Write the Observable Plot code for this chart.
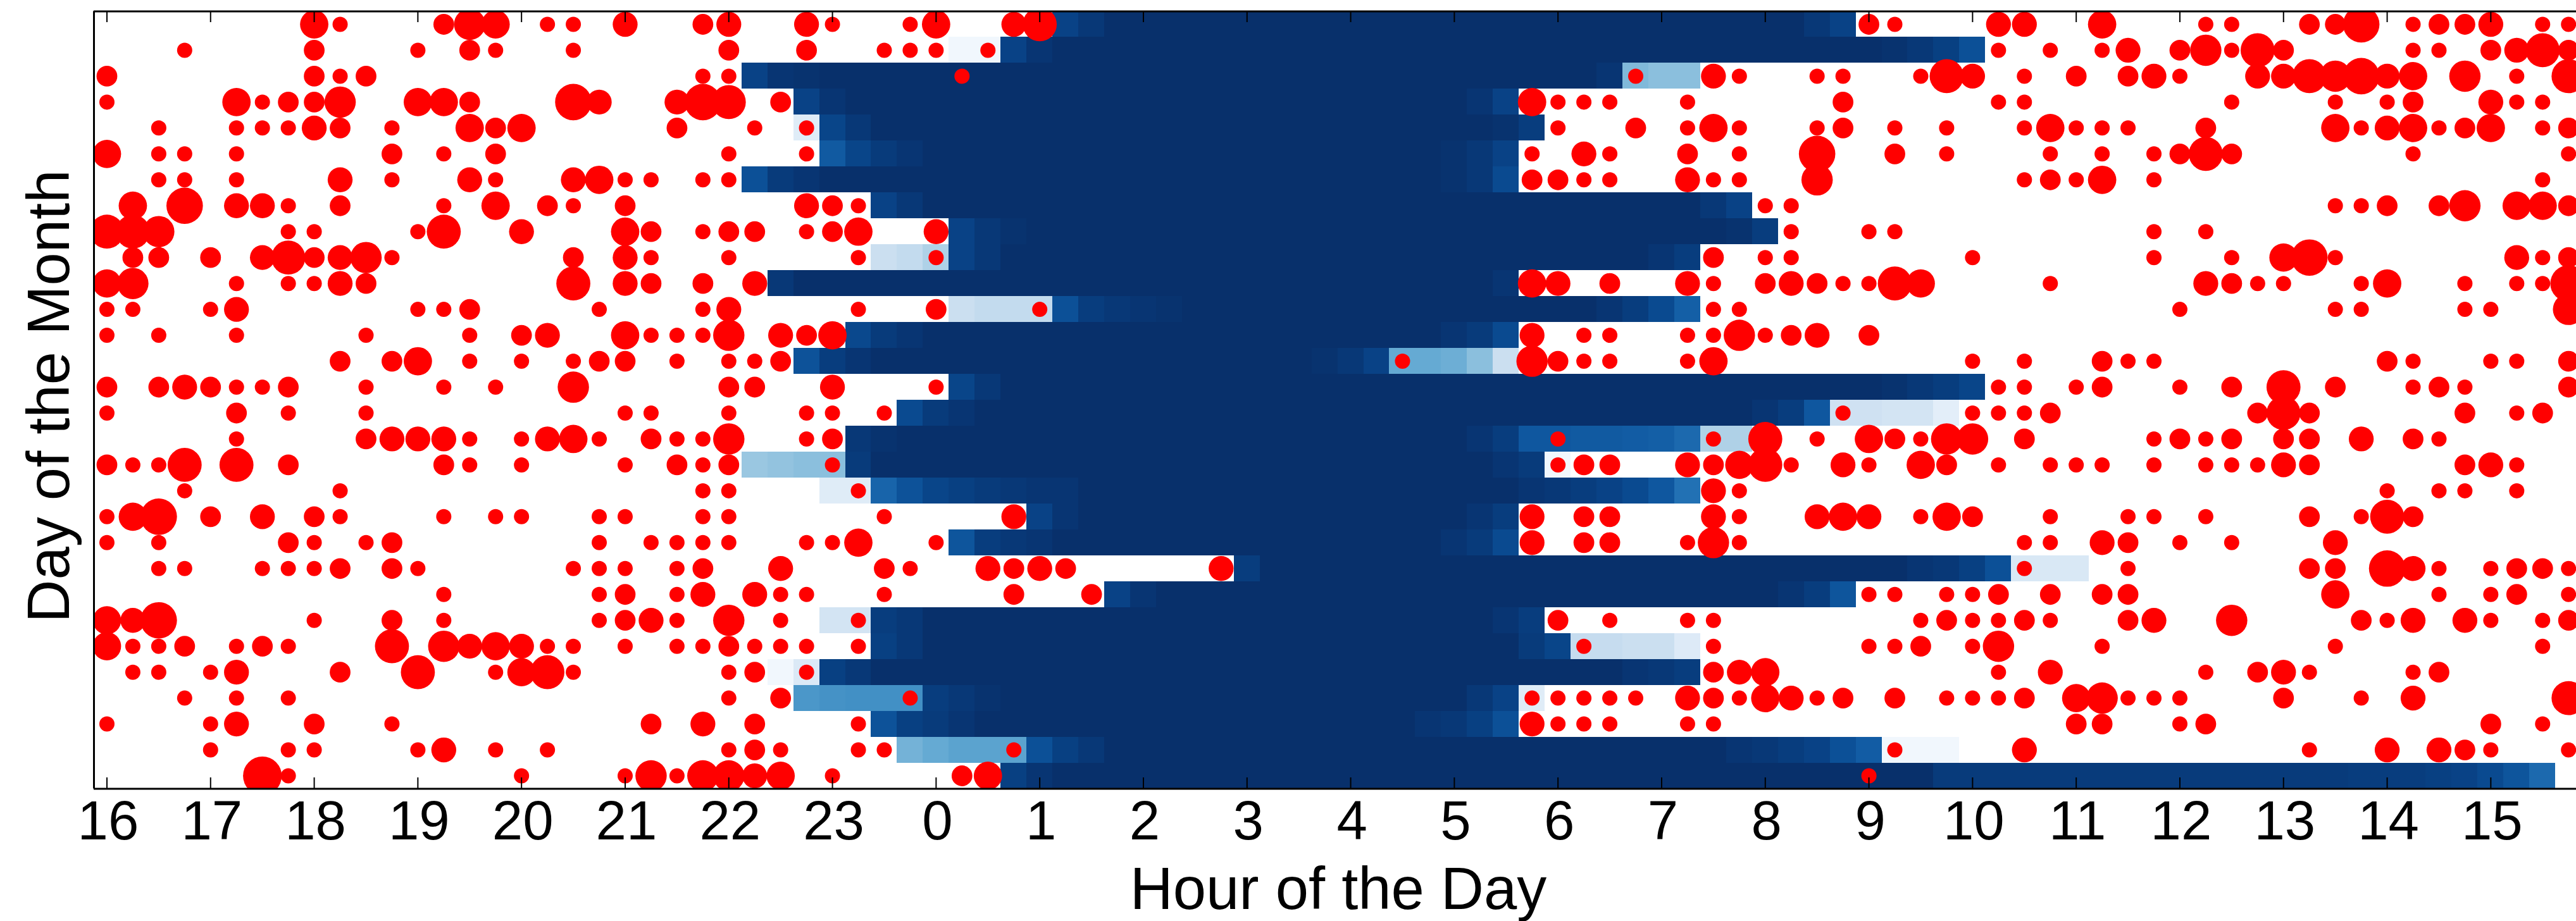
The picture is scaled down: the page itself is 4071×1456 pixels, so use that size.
<!DOCTYPE html>
<html>
<head>
<meta charset="utf-8">
<script src="https://cdn.jsdelivr.net/npm/d3@7"></script>
<script src="https://cdn.jsdelivr.net/npm/@observablehq/plot@0.6"></script>
<style>
html,body{margin:0;padding:0;background:#fff;overflow:hidden}
svg{display:block;max-width:none}
</style>
</head>
<body>
<div id="chart"></div>
<script>
const hourLabels = [16,17,18,19,20,21,22,23,0,1,2,3,4,5,6,7,8,9,10,11,12,13,14,15];
const tickColumns = [0,4,8,12,16,20,24,28,32,36,40,44,48,52,56,60,64,68,72,76,80,84,88,92];

// Sleep band per day: first and last coloured quarter-hour column
const bandStart = [37,33,25,27,27,28,25,30,33,30,26,33,29,27,33,31,29,25,28,36,33,44,39,28,30,26,27,30,31,35];
const bandEnd = [67,72,61,54,55,54,54,63,64,61,54,61,54,54,72,71,63,56,61,54,54,76,67,55,61,61,55,54,71,94];
// Estimated shade of the first columns of each band
const leadIn = [
 [.93,.97],[.03,.03,.93,.98],[.93,.98,.99],[.93,.98],[.12,.92,.97],[.84,.92,.96,.98],
 [.88,.96,.98],[.93,.97],[.93,.97,.99],[.22,.25,.32,.93,.97],[.97],[.22,.25,.25,.25,.88,.95,.97,.98,.99],
 [.91,.96,.98],[.87,.95,.98],[.92,.97],[.9,.96,.98],[.97,.99],[.38,.4,.42,.42,.96],
 [.12,.12,.8,.87,.92,.94,.96,.97,.98,.98],[.93,.98],[.86,.95,.97,.98],[.95],[.93,.98],[.18,.18,.95,.97],
 [.94,.97],[.03,.14,.94,.97],[.6,.62,.63,.63,.63,.95,.97,.99],[.87,.94,.96,.98],[.48,.52,.55,.55,.55,.88,.94,.97],[.94,.98]
];
// Estimated shade of the last columns of each band
const trailOut = [
 [.97,.93],[.99,.97,.94,.88],[.98,.45,.42,.42],[.98,.93],[.99,.95],[.99,.97,.93],
 [.99,.97,.9],[.97,.93],[.99,.95],[.98,.95],[.98],[.98,.95,.9,.82],
 [.98,.96,.9],[.99,.97,.93,.52,.52,.5,.42,.22],[.99,.97,.95,.92],[.98,.95,.85,.2,.2,.18,.18,.1],
 [.98,.95,.85,.85,.84,.84,.83,.82,.78,.32,.32],[.98,.96,.03],[.98,.97,.95,.93,.9,.85,.75],[.98,.95],
 [.98,.96,.9],[.98,.97,.94,.88,.15,.15,.15],[.98,.95,.86],[.98,.95],
 [.96,.92,.24,.24,.22,.22,.13],[.98,.97,.95],[.97,.93,.12],[.98,.97,.94,.88],
 [.98,.97,.95,.93,.88,.83,.03,.03,.03],
 [.96,.96,.96,.96,.96,.96,.96,.96,.96,.96,.96,.96,.96,.96,.96,.96,.95,.95,.95,.94,.93,.9,.86,.78]
];

// Activity per day as [quarter-hour column, count]
const activity = [
 [[8,4],[9,1],[13,2],[14,5],[15,4],[17,1],[18,1],[20,3],[23,2],[24,3],[27,3],[28,1],[31,1],[32,4],[35,3],[36,6],[68,2],[69,1],[73,3],[74,3],[77,4],[81,1],[82,1],[85,2],[86,2],[87,7],[89,1],[90,2],[91,2],[92,3],[94,1],[95,1]],
 [[3,1],[8,2],[12,1],[14,2],[15,1],[18,1],[24,2],[27,2],[30,1],[31,1],[32,1],[34,1],[73,1],[75,1],[77,1],[78,3],[80,2],[81,5],[82,1],[83,6],[84,2],[89,1],[90,1],[92,2],[93,3],[94,6],[95,2]],
 [[0,2],[8,2],[9,1],[10,2],[23,1],[24,1],[33,1],[59,1],[62,3],[63,1],[66,1],[67,1],[70,1],[71,6],[72,3],[74,1],[76,2],[78,2],[79,3],[80,1],[83,3],[84,3],[85,6],[86,5],[87,7],[88,3],[89,4],[91,5],[93,1],[95,6]],
 [[0,1],[5,4],[6,1],[7,2],[8,2],[9,5],[12,4],[13,4],[14,2],[18,7],[19,3],[22,3],[23,7],[24,6],[26,2],[55,4],[56,1],[57,1],[58,1],[61,1],[67,2],[73,1],[74,1],[82,1],[86,1],[88,1],[89,2],[92,3],[93,1],[94,1]],
 [[2,1],[5,1],[6,1],[7,1],[8,3],[9,2],[11,1],[14,4],[15,2],[16,4],[22,2],[25,1],[27,1],[56,1],[59,2],[61,1],[62,4],[63,1],[66,1],[67,2],[69,1],[71,1],[74,1],[75,4],[76,1],[77,1],[78,1],[81,2],[86,4],[87,1],[88,3],[89,4],[90,1],[91,2],[92,4],[94,1],[95,2]],
 [[0,4],[2,1],[3,1],[5,1],[11,2],[13,1],[15,2],[24,1],[27,1],[55,1],[57,3],[58,1],[61,2],[63,1],[66,7],[69,2],[71,1],[75,1],[77,1],[79,1],[80,2],[81,6],[82,2],[89,1],[95,1]],
 [[2,1],[3,1],[5,1],[9,3],[11,1],[14,3],[15,1],[18,3],[19,4],[20,1],[21,1],[23,1],[24,1],[55,2],[56,2],[57,1],[58,1],[61,3],[62,1],[63,1],[66,5],[74,1],[75,2],[76,1],[77,4],[79,1],[94,1]],
 [[1,4],[3,7],[5,3],[6,3],[7,1],[9,2],[13,1],[15,4],[17,2],[18,1],[20,2],[27,3],[28,2],[29,1],[64,1],[65,1],[86,1],[87,1],[88,2],[90,2],[91,5],[93,4],[94,4],[95,2]],
 [[0,6],[1,6],[2,5],[7,1],[8,1],[12,1],[13,6],[16,3],[20,4],[21,2],[23,1],[24,2],[25,2],[27,1],[28,2],[29,4],[32,3],[65,1],[68,1],[69,1],[79,1],[81,1]],
 [[1,2],[2,2],[4,2],[6,3],[7,6],[8,2],[9,3],[10,5],[11,1],[18,2],[20,3],[21,1],[24,1],[29,1],[32,1],[62,2],[64,1],[65,1],[72,1],[79,1],[82,1],[84,4],[85,7],[86,1],[93,3],[94,1],[95,2]],
 [[0,4],[1,5],[5,1],[7,1],[8,1],[9,3],[10,2],[18,6],[20,3],[21,2],[23,2],[25,3],[55,4],[56,3],[58,2],[61,3],[62,1],[64,2],[65,3],[66,2],[67,1],[68,1],[69,6],[70,4],[75,1],[81,3],[82,2],[83,1],[84,1],[87,1],[88,4],[91,1],[93,1],[94,1],[95,7]],
 [[0,1],[1,1],[4,1],[5,3],[12,1],[13,1],[14,2],[19,1],[23,1],[24,3],[29,1],[32,2],[36,1],[62,1],[63,1],[80,1],[86,1],[87,1],[91,1],[92,1],[95,5]],
 [[0,1],[2,1],[5,1],[10,1],[14,1],[16,2],[17,3],[20,4],[21,1],[22,1],[23,1],[24,5],[26,3],[27,2],[28,4],[55,3],[57,1],[58,1],[61,1],[62,1],[63,5],[64,1],[65,2],[66,3],[68,2]],
 [[9,2],[11,2],[12,4],[14,1],[16,1],[18,1],[19,2],[20,2],[22,1],[24,1],[25,1],[26,2],[50,1],[55,5],[56,2],[57,1],[58,1],[61,1],[62,4],[72,1],[74,1],[77,2],[78,1],[79,1],[88,2],[89,1],[92,1],[93,1],[95,2]],
 [[0,2],[2,2],[3,3],[4,2],[5,1],[6,1],[7,2],[10,1],[13,1],[15,1],[18,5],[24,2],[25,2],[28,3],[32,1],[73,1],[74,1],[76,1],[77,2],[80,1],[82,2],[84,6],[86,2],[89,1],[90,2],[91,1],[95,2]],
 [[0,1],[5,2],[7,1],[10,1],[20,1],[21,1],[24,1],[27,1],[28,1],[30,1],[67,1],[72,1],[73,1],[74,1],[75,2],[83,2],[84,6],[85,2],[91,2],[93,1],[94,2]],
 [[5,1],[10,2],[11,3],[12,3],[13,3],[14,1],[16,1],[17,3],[18,4],[19,1],[21,2],[22,1],[23,1],[24,5],[27,1],[28,2],[56,1],[62,1],[64,6],[66,1],[68,4],[69,2],[70,1],[71,5],[72,5],[74,2],[79,1],[80,2],[81,1],[82,2],[84,2],[85,2],[87,3],[89,2],[90,1]],
 [[0,2],[1,1],[2,1],[3,6],[5,6],[7,2],[13,2],[14,1],[16,1],[20,1],[22,2],[23,1],[24,2],[28,1],[56,1],[57,2],[58,2],[61,3],[62,2],[63,4],[64,6],[65,1],[67,3],[68,1],[70,4],[71,2],[73,1],[75,1],[76,1],[77,1],[79,1],[81,1],[82,1],[83,1],[84,3],[85,2],[91,2],[92,3],[93,1]],
 [[3,1],[9,1],[23,1],[24,1],[29,1],[62,3],[63,1],[88,1],[90,1],[91,1],[93,1]],
 [[0,1],[1,4],[2,7],[4,2],[6,3],[8,2],[9,1],[13,1],[15,1],[16,1],[19,1],[20,1],[23,1],[24,1],[30,1],[35,3],[55,3],[57,2],[58,2],[62,3],[63,1],[66,3],[67,4],[68,3],[70,1],[71,4],[72,2],[75,1],[78,1],[79,1],[81,1],[85,2],[87,1],[88,6],[89,2]],
 [[0,1],[2,1],[7,2],[8,1],[10,1],[11,2],[19,1],[21,1],[22,1],[23,1],[24,1],[27,1],[28,1],[29,4],[32,1],[55,3],[57,2],[58,2],[61,1],[62,5],[63,1],[74,1],[75,1],[77,3],[78,2],[80,1],[82,1],[86,3]],
 [[2,1],[3,1],[6,1],[7,1],[8,1],[9,2],[11,2],[12,1],[18,1],[19,1],[20,1],[22,1],[23,2],[26,3],[30,2],[31,1],[34,3],[35,2],[36,3],[37,2],[43,3],[74,1],[78,1],[85,2],[86,2],[88,7],[89,3],[90,1],[92,1],[93,2],[94,2],[95,1]],
 [[13,1],[19,1],[20,2],[22,1],[23,3],[25,3],[26,1],[27,1],[30,1],[35,2],[38,2],[68,1],[69,1],[71,1],[72,1],[73,2],[75,2],[77,2],[78,2],[86,4],[90,1],[92,1],[93,2],[95,1]],
 [[0,4],[1,3],[2,7],[8,1],[11,2],[13,1],[19,1],[20,2],[21,3],[22,1],[24,5],[26,1],[29,1],[56,2],[58,1],[61,1],[62,1],[70,1],[71,2],[72,1],[73,1],[74,2],[75,1],[78,2],[79,3],[82,5],[87,2],[88,1],[89,3],[91,3],[92,1],[94,1],[95,2]],
 [[0,4],[1,1],[2,1],[3,2],[5,1],[6,2],[7,1],[11,6],[13,5],[14,3],[15,4],[16,3],[17,1],[18,1],[20,1],[22,1],[23,1],[24,2],[25,1],[26,1],[27,1],[29,1],[57,1],[62,1],[68,1],[69,1],[70,2],[72,1],[73,5],[77,1],[86,1],[94,1]],
 [[1,1],[2,1],[4,1],[5,3],[9,2],[12,6],[15,1],[16,4],[17,6],[18,1],[24,1],[25,2],[27,1],[62,2],[63,3],[64,4],[73,1],[75,3],[81,1],[83,2],[84,3],[85,1],[89,1],[90,2]],
 [[3,1],[5,1],[7,1],[24,1],[26,2],[31,1],[55,1],[56,1],[57,1],[58,1],[59,1],[61,3],[62,2],[63,1],[64,4],[65,3],[66,1],[67,2],[69,2],[71,1],[72,1],[73,1],[74,2],[76,4],[77,5],[78,1],[79,1],[80,1],[84,2],[87,1],[89,3],[95,6]],
 [[0,1],[4,1],[5,3],[8,2],[11,1],[21,2],[23,3],[25,2],[29,1],[55,3],[56,1],[57,1],[58,1],[61,1],[62,1],[76,2],[77,2],[80,1],[81,2],[92,2],[94,1]],
 [[4,1],[7,1],[8,1],[12,1],[13,3],[15,1],[17,1],[24,1],[25,2],[26,1],[29,1],[30,1],[35,1],[69,1],[74,3],[85,1],[88,3],[90,3],[91,2],[92,1],[95,1]],
 [[6,8],[7,1],[16,1],[20,1],[21,5],[22,1],[23,5],[24,5],[25,3],[26,4],[28,1],[33,2],[34,4],[68,1]]
];

// Tables for the marks
const bandCells = [];
bandStart.forEach((first, row) => {
  const last = bandEnd[row], lead = leadIn[row], trail = trailOut[row];
  for (let col = first; col <= last; col++) {
    const fromEnd = last - col;
    let shade = 1;
    if (col - first < lead.length) shade = lead[col - first];
    else if (fromEnd < trail.length) shade = trail[trail.length - 1 - fromEnd];
    bandCells.push({row, col, shade});
  }
});
const activityDots = activity.flatMap((list, row) => list.map(([col, count]) => ({row, col, count})));

const chart = Plot.plot({
  width: 4071,
  height: 1456,
  marginLeft: 148,
  marginRight: 0,
  marginTop: 17.5,
  marginBottom: 209.5,
  style: {fontFamily: "'Liberation Sans', Arimo, Helvetica, sans-serif", background: "#fff", color: "#000"},
  x: {domain: [-0.5, 95.3]},
  y: {domain: [29.5, -0.5], axis: null},
  color: {type: "linear", scheme: "blues", domain: [0, 1]},
  r: {type: "pow", exponent: 0.45, domain: [0, 1], range: [0, 12]},
  marks: [
    Plot.rect(bandCells, {
      x1: d => d.col - 0.5, x2: d => d.col + 0.5,
      y1: d => d.row - 0.5, y2: d => d.row + 0.5,
      fill: "shade", shapeRendering: "crispEdges"
    }),
    Plot.dot(activityDots, {x: "col", y: "row", r: "count", fill: "#ff0000", stroke: "none", clip: "frame"}),
    Plot.ruleX(tickColumns, {x: d => d, y1: () => -0.5, y2: () => -0.5, insetBottom: -17.5, stroke: "#000", strokeWidth: 2}),
    Plot.ruleX(tickColumns, {x: d => d, y1: () => 29.5, y2: () => 29.5, insetTop: -17.5, stroke: "#000", strokeWidth: 2}),
    Plot.ruleX([-0.5], {stroke: "#000", strokeWidth: 3}),
    Plot.ruleY([-0.5, 29.5], {stroke: "#000", strokeWidth: 3}),
    Plot.axisX({
      anchor: "bottom", ticks: tickColumns, tickFormat: c => String(hourLabels[c / 4]),
      tickSize: 0, tickPadding: 18, fontSize: 87, label: null, dx: 2
    }),
    Plot.text(["Hour of the Day"], {
      frameAnchor: "bottom", dy: 190, dx: 5, fontSize: 94, lineAnchor: "bottom", fill: "#000"
    }),
    Plot.text(["Day of the Month"], {
      frameAnchor: "left", textAnchor: "middle", dx: -40, dy: -6, rotate: -90, fontSize: 94, lineAnchor: "bottom", fill: "#000"
    })
  ]
});
document.getElementById("chart").appendChild(chart);
</script>
</body>
</html>
